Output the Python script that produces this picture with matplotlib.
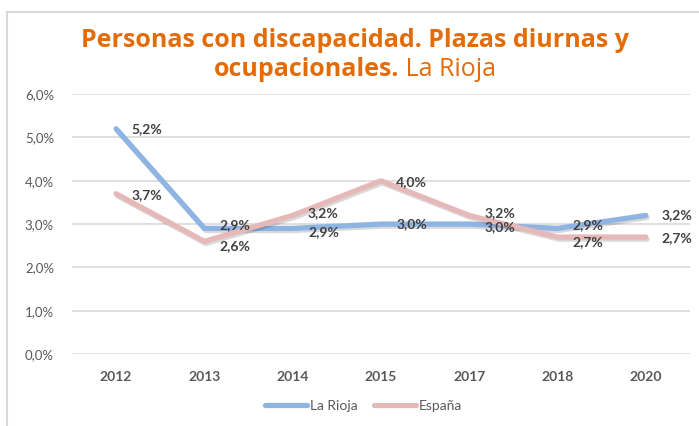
import matplotlib
matplotlib.use("Agg")
import matplotlib.pyplot as plt
import matplotlib.patheffects as pe
from matplotlib.lines import Line2D

years = ["2012", "2013", "2014", "2015", "2017", "2018", "2020"]
la_rioja = [5.2, 2.9, 2.9, 3.0, 3.0, 2.9, 3.2]
espana = [3.7, 2.6, 3.2, 4.0, 3.2, 2.7, 2.7]
y_ticks = [0, 1, 2, 3, 4, 5, 6]

BLUE = "#8EB4E3"
PINK = "#E6B9B8"
ORANGE = "#E36C09"
GRID = "#D9D9D9"
TXT = "#595959"
LBL = "#404040"

plt.rcParams["font.family"] = ["Lato", "DejaVu Sans"]
TITLE_FONT = ["Open Sans", "DejaVu Sans"]

fig = plt.figure(figsize=(6.99, 4.26), dpi=100)
ax = fig.add_axes([0.103, 0.169, 0.884, 0.610])

x = list(range(len(years)))
shadow = [pe.SimpleLineShadow(offset=(1.0, -1.5), shadow_color="k", alpha=0.15),
          pe.Normal()]
ax.plot(x, la_rioja, color=BLUE, lw=3.8, solid_capstyle="round",
        solid_joinstyle="round", path_effects=shadow, label="La Rioja", zorder=3)
ax.plot(x, espana, color=PINK, lw=3.8, solid_capstyle="round",
        solid_joinstyle="round", path_effects=shadow, label="España", zorder=4)


def pct(v):
    return f"{v:.1f}%".replace(".", ",")


# data labels right of each point, nudged apart where the two series are close
for xi, a, b in zip(x, la_rioja, espana):
    close = abs(a - b) < 0.35
    da = (2.5 if a > b else -2.5) if close else 0
    ax.annotate(pct(a), (xi, a), xytext=(11, da), textcoords="offset points",
                ha="left", va="center", fontsize=10, fontweight="bold",
                color=LBL, zorder=5)
    ax.annotate(pct(b), (xi, b), xytext=(11, -da - 1), textcoords="offset points",
                ha="left", va="center", fontsize=10, fontweight="bold",
                color=LBL, zorder=5)

ax.set_xlim(-0.5, len(years) - 0.5)
ax.set_ylim(0, 6)
ax.set_yticks(y_ticks)
ax.set_yticklabels([pct(t) for t in y_ticks], fontsize=9.5, color=TXT)
ax.set_xticks(x)
ax.set_xticklabels(years, fontsize=10, fontweight="bold", color=TXT)
ax.tick_params(axis="y", length=0, pad=13)
ax.tick_params(axis="x", length=0, pad=12)
ax.grid(axis="y", color=GRID, lw=1.2)
ax.set_axisbelow(True)
for s in ax.spines.values():
    s.set_visible(False)

handles = [Line2D([], [], color=BLUE, lw=3.8, solid_capstyle="round"),
           Line2D([], [], color=PINK, lw=3.8, solid_capstyle="round")]
leg = fig.legend(handles, ["La Rioja", "España"], loc="center",
                 bbox_to_anchor=(0.52, 0.047), ncol=2, frameon=False,
                 fontsize=10, handlelength=3.0, handletextpad=0.2,
                 columnspacing=1.2)
for t in leg.get_texts():
    t.set_color(TXT)

# chart border (left and top edges visible)
fig.add_artist(Line2D([0.010, 0.010], [0.0, 0.972], color=GRID, lw=1.5))
fig.add_artist(Line2D([0.010, 1.0], [0.972, 0.972], color=GRID, lw=1.5))

# title
fig.text(0.508, 0.906, "Personas con discapacidad. Plazas diurnas y",
         ha="center", va="center", fontsize=18, fontweight="bold",
         color=ORANGE, family=TITLE_FONT)
t1 = fig.text(0.5, 0.838, "ocupacionales.", ha="left", va="center",
              fontsize=18, fontweight="bold", color=ORANGE, family=TITLE_FONT)
t2 = fig.text(0.5, 0.838, " La Rioja", ha="left", va="center",
              fontsize=18, fontweight="normal", color=ORANGE, family=TITLE_FONT)
r = fig.canvas.get_renderer()
w1 = t1.get_window_extent(r).width
w2 = t2.get_window_extent(r).width
W = fig.bbox.width
start = 0.508 - (w1 + w2) / 2 / W
t1.set_x(start)
t2.set_x(start + w1 / W)

fig.savefig("out.png", dpi=100)
